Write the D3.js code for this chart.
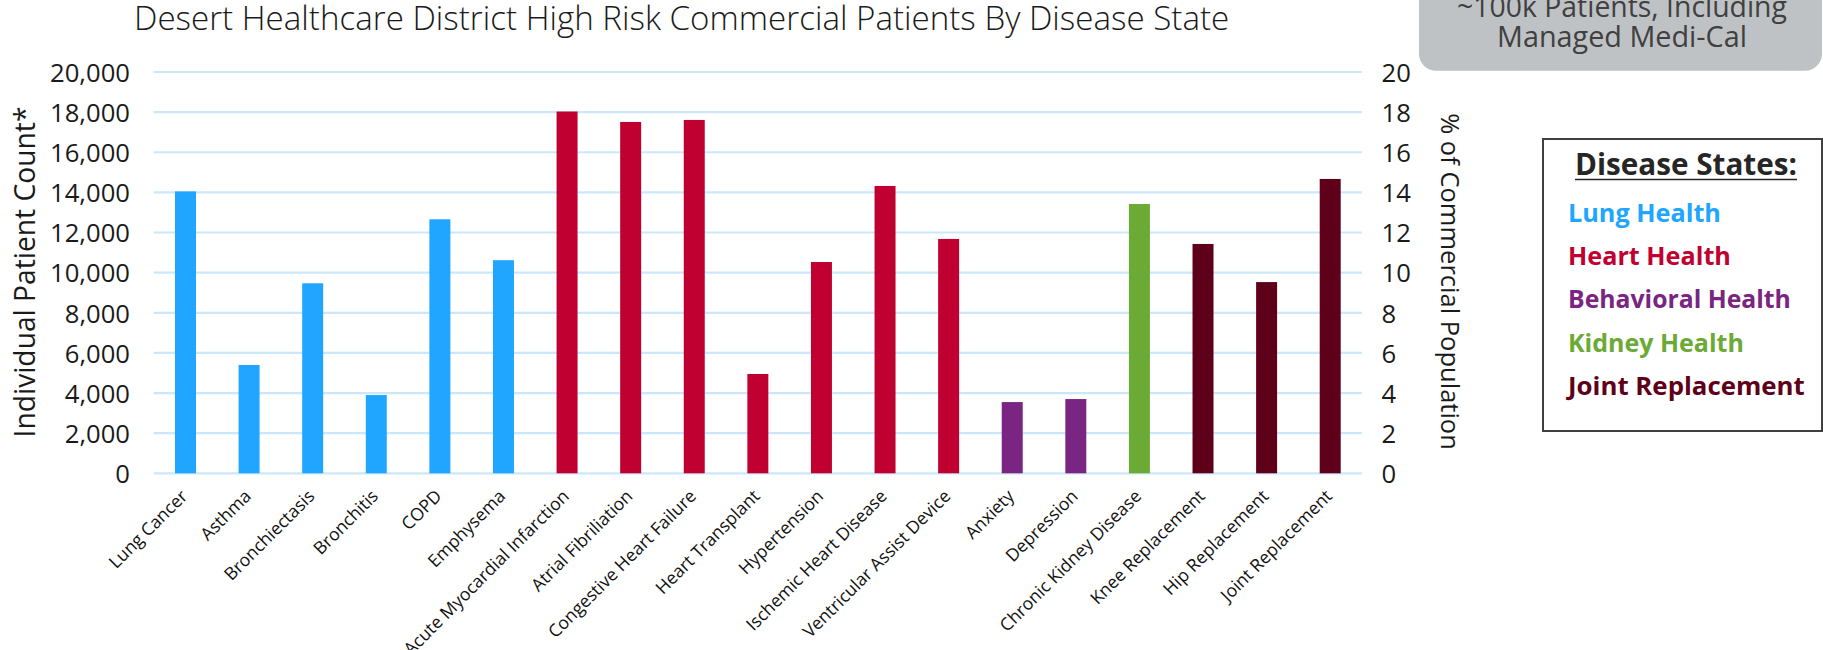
<!DOCTYPE html>
<html><head><meta charset="utf-8">
<script src="https://cdn.jsdelivr.net/npm/d3@7"></script>
<style>
body{margin:0;background:#fff;overflow:hidden}
svg{display:block}
text{font-family:'Open Sans','Noto Sans',sans-serif}
</style>
</head><body>
<svg id="chart" width="1823" height="650"></svg>
<script>
// ---- data ----
const categories = ["Lung Cancer","Asthma","Bronchiectasis","Bronchitis","COPD","Emphysema",
  "Acute Myocardial Infarction","Atrial Fibriliation","Congestive Heart Failure","Heart Transplant",
  "Hypertension","Ischemic Heart Disease","Ventricular Assist Device","Anxiety","Depression",
  "Chronic Kidney Disease","Knee Replacement","Hip Replacement","Joint Replacement"];
const categoryGroup = ["Lung Health","Lung Health","Lung Health","Lung Health","Lung Health","Lung Health",
  "Heart Health","Heart Health","Heart Health","Heart Health","Heart Health","Heart Health","Heart Health",
  "Behavioral Health","Behavioral Health","Kidney Health",
  "Joint Replacement","Joint Replacement","Joint Replacement"];
const patientCounts = [14050,5400,9470,3900,12660,10620,18030,17510,17610,4950,10530,14320,11680,3550,3700,13420,11430,9530,14670];
const groupNames = ["Lung Health","Heart Health","Behavioral Health","Kidney Health","Joint Replacement"];
const groupColors = ["#21A6FF","#C00030","#7A2582","#6AAA35","#5E0019"];
const leftTicks = [0,2000,4000,6000,8000,10000,12000,14000,16000,18000,20000];
const rightTicks = [0,2,4,6,8,10,12,14,16,18,20];
const titleText = "Desert Healthcare District High Risk Commercial Patients By Disease State";
const leftAxisTitle = "Individual Patient Count*";
const rightAxisTitle = "% of Commercial Population";
const noteLines = ["~100k Patients, Including","Managed Medi-Cal"];
const legendTitle = "Disease States:";

// ---- layout ----
const svg = d3.select("#chart");
const X0 = 153.7, X1 = 1362, Y0 = 473.3, Y1 = 72;
const x = d3.scaleBand().domain(categories).range([X0, X1]).paddingInner(0.67).paddingOuter(0.335);
const y = d3.scaleLinear().domain([0, 20000]).range([Y0, Y1]);
const yR = d3.scaleLinear().domain([0, 20]).range([Y0, Y1]);
const color = d3.scaleOrdinal().domain(groupNames).range(groupColors);

function fit(sel, w){
  const cur = sel.node().getComputedTextLength();
  const fs = parseFloat(sel.attr("font-size"));
  sel.attr("font-size", fs * w / cur);
  return fs * w / cur;
}

// gridlines
svg.append("g").selectAll("line").data(leftTicks).join("line")
  .attr("x1", X0).attr("x2", X1)
  .attr("y1", d => y(d)).attr("y2", d => y(d))
  .attr("stroke", "#CBE8FB").attr("stroke-width", 2.2);

// bars
svg.append("g").selectAll("rect").data(categories).join("rect")
  .attr("x", d => x(d)).attr("width", x.bandwidth())
  .attr("y", (d,i) => y(patientCounts[i]))
  .attr("height", (d,i) => y(0) - y(patientCounts[i]))
  .attr("fill", (d,i) => color(categoryGroup[i]));

// left axis
const gL = svg.append("g").attr("transform", "translate(130,0)")
  .call(d3.axisLeft(y).tickValues(leftTicks).tickFormat(d3.format(",")).tickSize(0).tickPadding(0));
gL.select(".domain").remove();
gL.selectAll("text").attr("font-size", 22).attr("fill", "#1a1a1a")
  .attr("font-family", "'Open Sans',sans-serif").attr("dy", "0.36em");
const tickFs = fit(gL.selectAll("text").filter(d => d === 20000), 80);
gL.selectAll("text").attr("font-size", tickFs);

// right axis
const gR = svg.append("g").attr("transform", "translate(1381.5,0)")
  .call(d3.axisRight(yR).tickValues(rightTicks).tickSize(0).tickPadding(0));
gR.select(".domain").remove();
gR.selectAll("text").attr("font-size", tickFs).attr("fill", "#1a1a1a")
  .attr("font-family", "'Open Sans',sans-serif").attr("dy", "0.36em");

// x labels
const gX = svg.append("g").selectAll("text").data(categories).join("text")
  .attr("transform", d => `translate(${x(d) + x.bandwidth()/2 + 3},${Y0 + 24}) rotate(-45)`)
  .attr("text-anchor", "end").attr("font-size", 17.6).attr("fill", "#111")
  .text(d => d);

// title
const t = svg.append("text").attr("x", 134).attr("y", 29.5).attr("font-size", 27)
  .attr("font-weight", 300).attr("fill", "#1a1a1a").text(titleText);
fit(t, 1096);

// axis titles
const lt = svg.append("text").attr("transform", "translate(35,272) rotate(-90)")
  .attr("text-anchor", "middle").attr("font-size", 26).attr("fill", "#1a1a1a").text(leftAxisTitle);
fit(lt, 331);
const rt = svg.append("text").attr("transform", "translate(1441,281.5) rotate(90)")
  .attr("text-anchor", "middle").attr("font-size", 26).attr("fill", "#1a1a1a").text(rightAxisTitle);
fit(rt, 337);

// note box
svg.append("rect").attr("x", 1419).attr("y", -40).attr("width", 403).attr("height", 110.7)
  .attr("rx", 17).attr("fill", "#BFC2C5");
const noteW = [330, 250];
noteLines.forEach((s, i) => {
  const nt = svg.append("text").attr("x", 1622).attr("y", 17 + i*30).attr("text-anchor", "middle")
    .attr("font-size", 25).attr("font-weight", 400).attr("fill", "#404040").text(s);
  fit(nt, noteW[i]);
});

// legend
svg.append("rect").attr("x", 1543).attr("y", 139).attr("width", 279).attr("height", 292)
  .attr("fill", "#fff").attr("stroke", "#404040").attr("stroke-width", 2);
const lgT = svg.append("text").attr("x", 1686).attr("y", 175).attr("text-anchor", "middle")
  .attr("font-size", 25).attr("font-weight", 700).attr("fill", "#262626").text(legendTitle);
fit(lgT, 222);
svg.append("line").attr("x1", 1575).attr("x2", 1797).attr("y1", 179.5).attr("y2", 179.5)
  .attr("stroke", "#262626").attr("stroke-width", 1.6);
const legendWidths = [153, 163, 223, 176, 237];
svg.append("g").selectAll("text").data(groupNames).join("text")
  .attr("x", 1568).attr("y", (d,i) => 222 + i*43.2)
  .attr("font-size", 22).attr("font-weight", 700)
  .attr("fill", d => color(d)).text(d => d)
  .each(function(d,i){ fit(d3.select(this), legendWidths[i]); });
</script>
</body></html>
